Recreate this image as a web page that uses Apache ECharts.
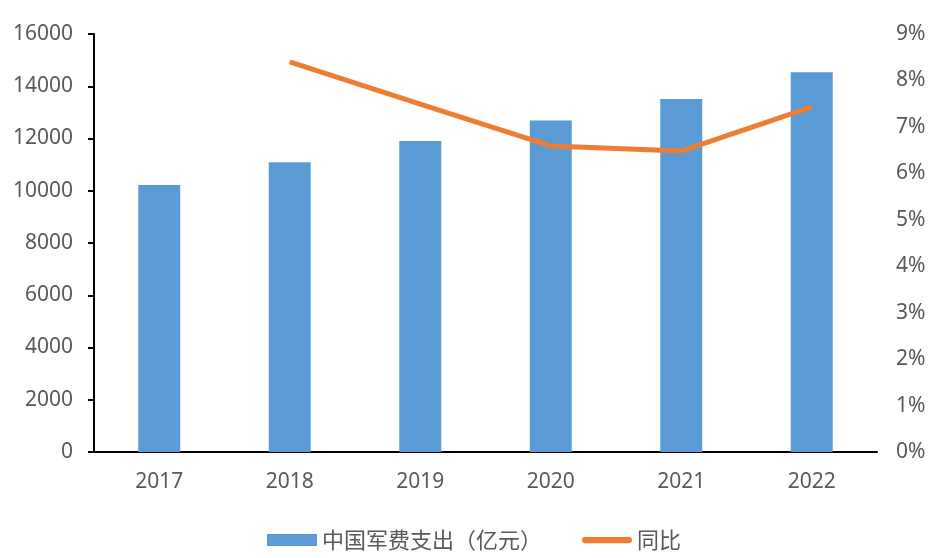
<!DOCTYPE html>
<html><head><meta charset="utf-8">
<script src="https://cdn.jsdelivr.net/npm/echarts@6/dist/echarts.min.js"></script>
<style>html,body{margin:0;padding:0;background:#fff}#c{width:948px;height:558px}</style>
</head><body><div id="c"></div>
<script>
var years = ['2017','2018','2019','2020','2021','2022'];
var spending = [10220, 11090, 11900, 12690, 13510, 14540];
var yoy = [null, 8.40, 7.49, 6.59, 6.48, 7.43];
var leftTicks = [0, 16000, 2000];
var rightTicks = [0, 9, 1];

var chart = echarts.init(document.getElementById('c'));
var font = '"Noto Sans", "Noto Sans CJK SC", sans-serif';
chart.setOption({
  animation: false,
  textStyle: {fontFamily: font},
  grid: {left: 94, right: 71, top: 34, bottom: 106},
  legend: {
    top: 524, left: 'center', itemGap: 40, itemWidth: 50, itemHeight: 12,
    textStyle: {fontSize: 22, color: '#595959', fontFamily: '"Noto Sans CJK SC", sans-serif'},
    data: [
      {name: '中国军费支出（亿元）', icon: 'rect'},
      {name: '同比', icon: 'path://M3.5,0 L52.5,0 A3.5,3.5 0 0 1 52.5,7 L3.5,7 A3.5,3.5 0 0 1 3.5,0 Z'}
    ]
  },
  xAxis: {
    type: 'category', data: years,
    axisLine: {lineStyle: {color: '#000', width: 2}},
    axisTick: {show: false},
    axisLabel: {color: '#595959', fontSize: 21, margin: 20}
  },
  yAxis: [
    {type: 'value', min: leftTicks[0], max: leftTicks[1], interval: leftTicks[2],
     axisLine: {show: true, lineStyle: {color: '#000', width: 2}},
     axisTick: {show: true, length: 6, lineStyle: {color: '#000', width: 2}},
     splitLine: {show: false},
     axisLabel: {color: '#595959', fontSize: 21, margin: 21, formatter: function (v) { return String(v); }}},
    {type: 'value', min: rightTicks[0], max: rightTicks[1], interval: rightTicks[2],
     axisLine: {show: false}, axisTick: {show: false}, splitLine: {show: false},
     axisLabel: {color: '#595959', fontSize: 21, margin: 19, formatter: '{value}%'}}
  ],
  series: [
    {name: '中国军费支出（亿元）', type: 'bar', data: spending, barWidth: 42,
     itemStyle: {color: '#5B9BD5'}},
    {name: '同比', type: 'line', yAxisIndex: 1, data: yoy, symbol: 'none',
     lineStyle: {color: '#ED7D31', width: 5}, itemStyle: {color: '#ED7D31'}}
  ]
});
</script></body></html>
